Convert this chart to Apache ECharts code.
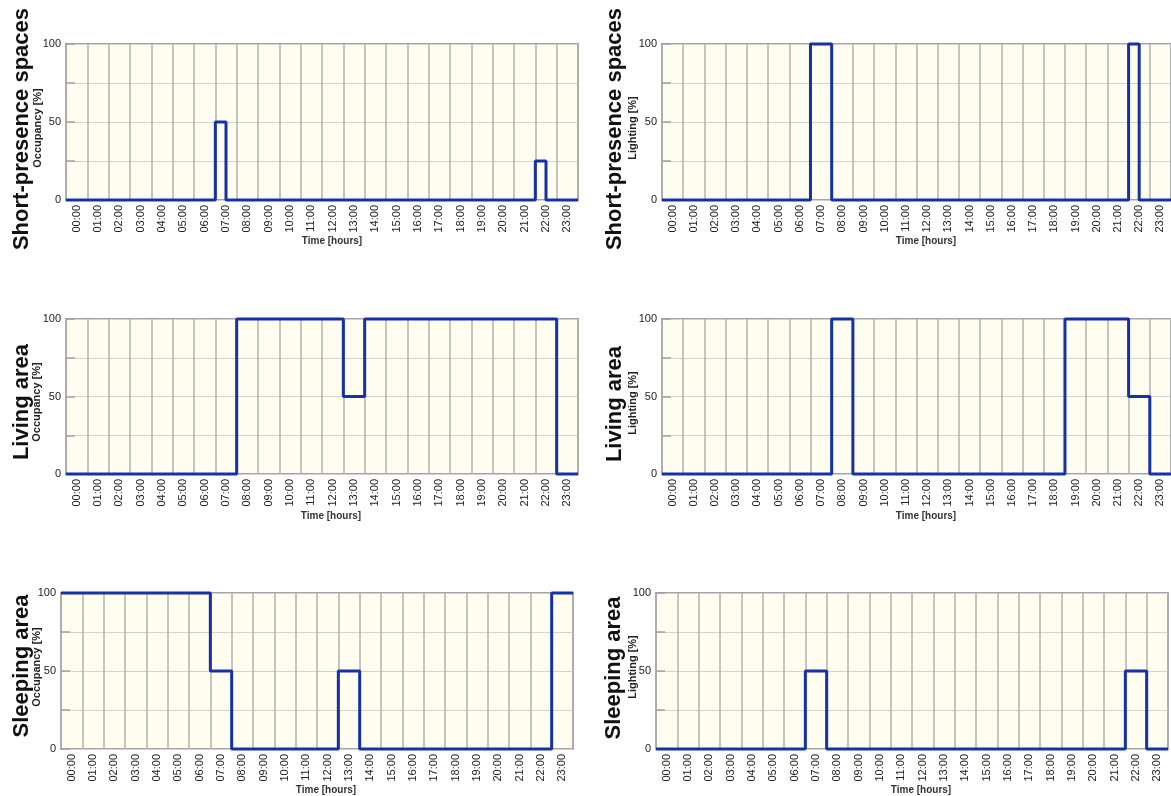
<!DOCTYPE html>
<html>
<head>
<meta charset="utf-8">
<script src="https://cdn.jsdelivr.net/npm/echarts@6/dist/echarts.min.js"></script>
<style>
html,body{margin:0;padding:0;background:#fff;}
#chart{width:1171px;height:796px;}
</style>
</head>
<body>
<div id="chart"></div>
<script>
// Tick labels (hour columns)
const hourLabels = ['00:00','01:00','02:00','03:00','04:00','05:00','06:00','07:00','08:00','09:00','10:00','11:00',
  '12:00','13:00','14:00','15:00','16:00','17:00','18:00','19:00','20:00','21:00','22:00','23:00'];
const yTicks = [0, 50, 100];

// Piecewise-constant schedules: change times [h] and the value held from that time on
const occShortT  = [0, 7, 7.5, 22, 22.5, 24];
const occShortV  = [0, 50, 0, 25, 0, 0];
const litShortT  = [0, 7, 8, 22, 22.5, 24];
const litShortV  = [0, 100, 0, 100, 0, 0];
const occLivingT = [0, 8, 13, 14, 23, 24];
const occLivingV = [0, 100, 50, 100, 0, 0];
const litLivingT = [0, 8, 9, 19, 22, 23, 24];
const litLivingV = [0, 100, 0, 100, 50, 0, 0];
const occSleepT  = [0, 7, 8, 13, 14, 23, 24];
const occSleepV  = [100, 50, 0, 50, 0, 100, 100];
const litSleepT  = [0, 7, 8, 22, 23, 24];
const litSleepV  = [0, 50, 0, 50, 0, 0];

const rowTitles = ['Short-presence spaces', 'Living area', 'Sleeping area'];
const colTitles = ['Occupancy [%]', 'Lighting [%]'];
const xTitle = 'Time [hours]';

const FONT = '"Liberation Sans", Arial, Helvetica, sans-serif';
const panels = [
  {t: occShortT, v: occShortV, grid: {left: 66, top: 44, width: 512, height: 156}, big: [22, 129], sub: [38, 128], xt: [332, 241], row: 0, col: 0},
  {t: litShortT, v: litShortV, grid: {left: 662, top: 44, width: 511, height: 156}, big: [615, 129], sub: [633, 128], xt: [926, 241], row: 0, col: 1},
  {t: occLivingT, v: occLivingV, grid: {left: 66, top: 319, width: 512, height: 155}, big: [22, 402], sub: [37, 402], xt: [331, 516], row: 1, col: 0},
  {t: litLivingT, v: litLivingV, grid: {left: 662, top: 319, width: 511, height: 155}, big: [615, 404], sub: [633, 403], xt: [926, 516], row: 1, col: 1},
  {t: occSleepT, v: occSleepV, grid: {left: 61, top: 593, width: 512, height: 156}, big: [22, 666], sub: [37, 667], xt: [326, 790], row: 2, col: 0},
  {t: litSleepT, v: litSleepV, grid: {left: 656, top: 593, width: 512, height: 156}, big: [614, 668], sub: [633, 667], xt: [921, 790], row: 2, col: 1}
];

const grids = [], xAxes = [], yAxes = [], series = [], graphics = [];
panels.forEach((p, i) => {
  grids.push(Object.assign({show: true, backgroundColor: '#fffdf0', borderColor: '#a4a4a4', borderWidth: 2}, p.grid));
  // category axis: labels and vertical split lines
  xAxes.push({
    type: 'category', gridIndex: i, data: hourLabels, boundaryGap: true,
    axisLine: {show: false}, axisTick: {show: false},
    axisLabel: {interval: 0, rotate: 90, margin: 5, fontSize: 11, color: '#222', fontFamily: FONT},
    splitLine: {show: true, interval: 0, lineStyle: {color: '#b0b0b0', width: 1.5}}
  });
  // value axis in hours for the step line
  xAxes.push({type: 'value', gridIndex: i, min: 0, max: 24, show: false});
  yAxes.push({
    type: 'value', gridIndex: i, min: 0, max: 100, interval: 25,
    axisLine: {show: false},
    axisTick: {show: true, inside: true, length: 9, lineStyle: {color: '#a0a0a0', width: 1.5}},
    axisLabel: {margin: 5, fontSize: 11, color: '#222', fontFamily: FONT,
      formatter: v => yTicks.indexOf(v) >= 0 ? String(v) : ''},
    splitLine: {show: true, lineStyle: {color: '#d2d2d2', width: 1}}
  });
  series.push({
    type: 'line', step: 'end', xAxisIndex: 2 * i + 1, yAxisIndex: i,
    data: p.t.map((t, k) => [t, p.v[k]]),
    symbol: 'none', clip: false, animation: false,
    lineStyle: {color: '#1432a6', width: 3}
  });
  graphics.push({type: 'text', x: p.big[0], y: p.big[1], rotation: Math.PI / 2,
    style: {text: rowTitles[p.row], font: 'bold 22px ' + FONT, fill: '#111', textAlign: 'center', textVerticalAlign: 'middle'}});
  graphics.push({type: 'text', x: p.sub[0], y: p.sub[1], rotation: Math.PI / 2,
    style: {text: colTitles[p.col], font: 'bold 11px ' + FONT, fill: '#222', textAlign: 'center', textVerticalAlign: 'middle'}});
  graphics.push({type: 'text', x: p.xt[0], y: p.xt[1],
    style: {text: xTitle, font: 'bold 10px ' + FONT, fill: '#333', textAlign: 'center', textVerticalAlign: 'middle'}});
});

const chart = echarts.init(document.getElementById('chart'), null, {renderer: 'canvas'});
chart.setOption({
  animation: false,
  backgroundColor: '#ffffff',
  grid: grids, xAxis: xAxes, yAxis: yAxes, series: series,
  graphic: graphics
});
</script>
</body>
</html>
